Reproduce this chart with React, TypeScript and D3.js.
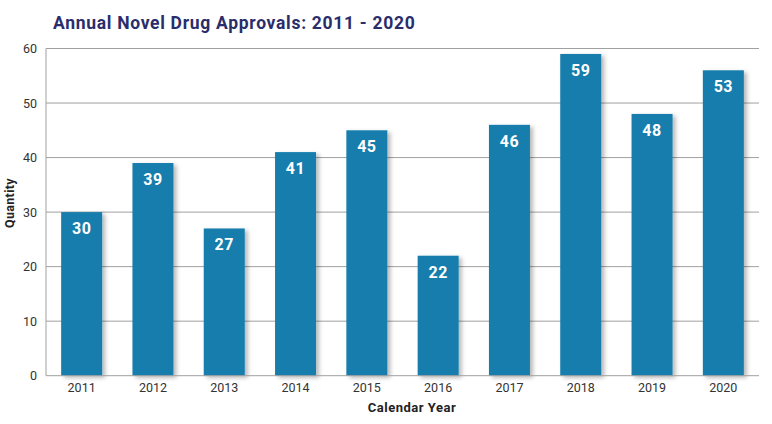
import React from "react";
import * as d3 from "d3";

const years = ["2011", "2012", "2013", "2014", "2015", "2016", "2017", "2018", "2019", "2020"];
const barHeights = [30, 39, 27, 41, 45, 22, 46, 59, 48, 56];
const barLabels = ["30", "39", "27", "41", "45", "22", "46", "59", "48", "53"];
const yTicks = [0, 10, 20, 30, 40, 50, 60];
const title = "Annual Novel Drug Approvals: 2011 - 2020";
const xTitle = "Calendar Year";
const yTitle = "Quantity";

export default function App() {
  const W = 772, H = 424;
  const left = 46, right = 759, top = 48.5, bottom = 375.7;
  const x = d3.scaleBand<string>().domain(years).range([left, right]).paddingInner(0.425).paddingOuter(0.2125);
  const y = d3.scaleLinear().domain([0, 60]).range([bottom, top]);
  const font = "Roboto, 'DejaVu Sans', sans-serif";
  return (
    <svg width={W} height={H} style={{ position: "absolute", left: 0, top: 0, background: "#fff" }} fontFamily={font}>
      <defs>
        <filter id="sh" x="-20%" y="-10%" width="150%" height="130%">
          <feDropShadow dx="3" dy="2" stdDeviation="2" floodColor="#000" floodOpacity="0.28" />
        </filter>
      </defs>
      <text x={53} y={29} fontSize={17.5} fontWeight={700} fill="#2a2d6b" letterSpacing={0.7}>{title}</text>
      {yTicks.map((t) => (
        <g key={t}>
          {t > 0 && <line x1={left} x2={right} y1={y(t)} y2={y(t)} stroke="#a0a0a0" strokeWidth={1} />}
          <text x={37} y={y(t) + 4.5} fontSize={12.5} textAnchor="end" fill="#333">{t}</text>
        </g>
      ))}
      <line x1={left} x2={left} y1={top} y2={bottom} stroke="#a0a0a0" strokeWidth={1} />
      {years.map((yr, i) => (
        <g key={yr}>
          <rect x={x(yr)} y={y(barHeights[i])} width={x.bandwidth()} height={bottom - y(barHeights[i])} fill="#147dac" filter="url(#sh)" />
        </g>
      ))}
      <line x1={left} x2={right} y1={bottom} y2={bottom} stroke="#a0a0a0" strokeWidth={1} />
      {years.map((yr, i) => (
        <g key={yr + "t"}>
          <text x={(x(yr) as number) + x.bandwidth() / 2} y={y(barHeights[i]) + 22} fontSize={16} fontWeight={700} textAnchor="middle" fill="#fff" letterSpacing={0.5}>{barLabels[i]}</text>
          <text x={(x(yr) as number) + x.bandwidth() / 2} y={392} fontSize={12.5} textAnchor="middle" fill="#333">{yr}</text>
        </g>
      ))}
      <text x={412} y={412} fontSize={13} fontWeight={700} textAnchor="middle" fill="#222" letterSpacing={0.5}>{xTitle}</text>
      <text transform={`translate(14,203) rotate(-90)`} fontSize={12.5} fontWeight={700} textAnchor="middle" fill="#222" letterSpacing={0.3}>{yTitle}</text>
    </svg>
  );
}
